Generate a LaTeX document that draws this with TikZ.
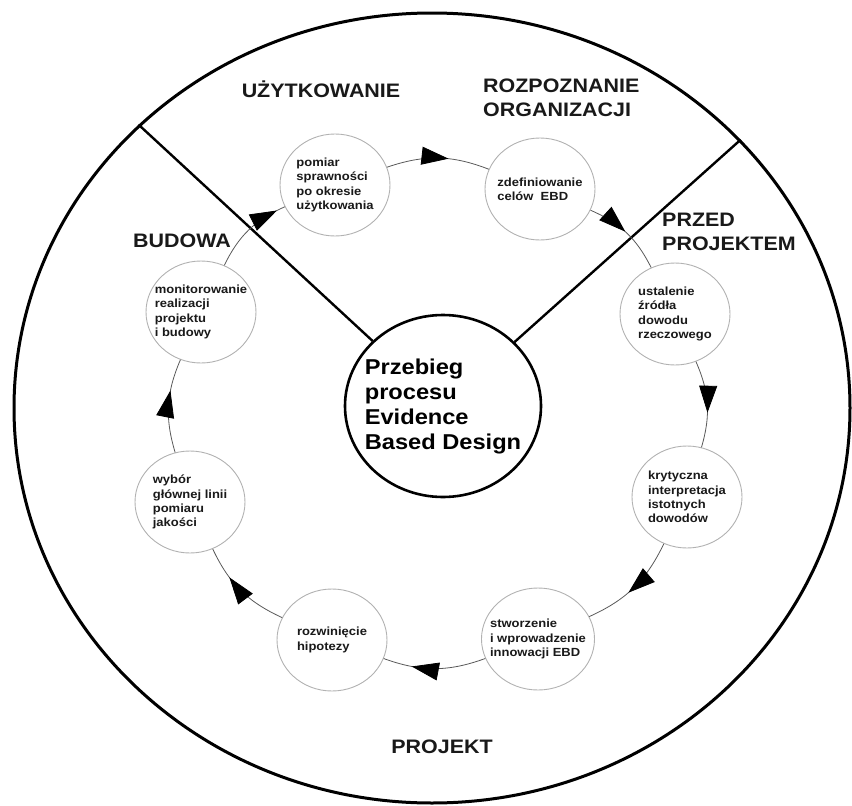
\documentclass[tikz,border=0pt]{standalone}
\usepackage{fontspec}
\setmainfont{Liberation Sans}[FakeStretch=1.1]
\usetikzlibrary{shapes.geometric, arrows.meta, decorations.markings}

\begin{document}
\begin{tikzpicture}[x=1pt, y=-1pt,
    phase/.style={inner sep=0pt, align=left, text=black!90,
      font=\bfseries\fontsize{19.5}{23.5}\selectfont},
    ring/.style={ellipse, draw, line width=3pt, minimum width=836pt,
      minimum height=790pt, inner sep=0pt},
    core/.style={ellipse, draw, line width=2.6pt, fill=white, minimum width=196pt,
      minimum height=182pt, inner sep=-12pt, align=left,
      font=\bfseries\fontsize{21.5}{25}\selectfont},
    stepbox/.style={ellipse, draw=black!30, line width=0.9pt, fill=white,
      minimum width=110pt, minimum height=102pt, inner sep=-8pt, align=left,
      text=black!90, font=\bfseries\fontsize{11.8}{14.2}\selectfont},
    divider/.style={line width=2.4pt},
    flow/.style={draw=black!65, line width=0.8pt, postaction={decorate},
      decoration={markings, mark=at position #1 with
        {\arrow[black]{Triangle[length=27pt,width=18pt]}}}},
    flow/.default=0.55]
        \useasboundingbox (0,0) rectangle (852,806);

        % outer ring, centre and the phase borders
        \node[ring] (ring) at (432,408) {};
        \node[core] (core) at (443,406) {Przebieg\\procesu\\Evidence\\Based Design};
        \draw[divider] (ring.136) -- (core);
        \draw[divider] (ring.41.5) -- (core);

        % phases
        \node[phase, anchor=base] (uzytkowanie) at (321,97) {UŻYTKOWANIE};
        \node[phase, anchor=north west] (rozpoznanie) at (483,79) {ROZPOZNANIE\\ORGANIZACJI};
        \node[phase, anchor=north west] (przed) at (662,213) {PRZED\\PROJEKTEM};
        \node[phase, anchor=base] (budowa) at (182,247) {BUDOWA};
        \node[phase, anchor=base] (projekt) at (442,753) {PROJEKT};

        % steps of the cycle
        \node[stepbox] (pomiar) at (335,185) {pomiar\\sprawności\\po okresie\\użytkowania};
        \node[stepbox] (cele) at (540,189) {zdefiniowanie\\celów~~EBD};
        \node[stepbox] (zrodla) at (675,314) {ustalenie\\źródła\\dowodu\\rzeczowego};
        \node[stepbox] (krytyka) at (687,497) {krytyczna\\interpretacja\\istotnych\\dowodów};
        \node[stepbox] (innowacje) at (538,639) {stworzenie\\i wprowadzenie\\innowacji EBD};
        \node[stepbox] (hipoteza) at (332,640) {rozwinięcie\\hipotezy};
        \node[stepbox] (wybor) at (190,502) {wybór\\głównej linii\\pomiaru\\jakości};
        \node[stepbox] (monitoring) at (201,312) {monitorowanie\\realizacji\\projektu\\i budowy};

        \draw[flow=.6] (pomiar) to[bend left=20] (cele);
        \draw[flow=.48] (cele) to[bend left=20] (zrodla);
        \draw[flow=.6] (zrodla) to[bend left=20] (krytyka);
        \draw[flow=.57] (krytyka) to[bend left=20] (innowacje);
        \draw[flow=.72] (innowacje) to[bend left=20] (hipoteza);
        \draw[flow=.67] (hipoteza) to[bend left=20] (wybor);
        \draw[flow=.66] (wybor) to[bend left=20] (monitoring);
        \draw[flow=.9] (monitoring) to[bend left=20] (pomiar);
\end{tikzpicture}
\end{document}
